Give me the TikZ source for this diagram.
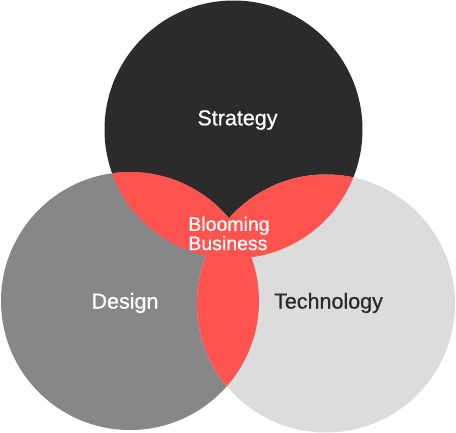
\documentclass[tikz,border=0pt]{standalone}
\usepackage{fontspec}
\setmainfont{Liberation Sans}[FakeBold=0.7]
\usepackage{xcolor}
\usetikzlibrary{positioning}
\definecolor{darkset}{HTML}{2B2B2B}
\definecolor{midset}{HTML}{878787}
\definecolor{lightset}{HTML}{DCDCDC}
\definecolor{overlap}{HTML}{FF5350}
\tikzset{
  setcirc/.style={circle, minimum size=258pt, inner sep=0pt},
  setname/.style={font=\fontsize{21.5}{23}\selectfont},
}
\newcommand{\rad}{129pt}

\begin{document}
\begin{tikzpicture}[x=1pt, y=-1pt]
    \useasboundingbox (0,0) rectangle (456,432);
    \node[setcirc, fill=darkset] (strategy) at (233.5,129.5) {};
    \node[setcirc, fill=midset] (design) at (130,301) {};
    \node[setcirc, fill=lightset] (tech) at (326,303.5) {};
    % pairwise overlaps
    \begin{scope}
      \clip (design.center) circle (\rad);
      \fill[overlap] (strategy.center) circle (\rad);
      \fill[overlap] (tech.center) circle (\rad);
    \end{scope}
    \begin{scope}
      \clip (tech.center) circle (\rad);
      \fill[overlap] (strategy.center) circle (\rad);
    \end{scope}
    \node[setname, text=white] (strategytxt) at (237.5,120) {Strategy};
    \node[setname, text=white] (designtxt) at (125,303) {Design};
    \node[setname, text=darkset] (techtxt) at (328.5,303) {Technology};
    \node[font=\fontsize{19.5}{17.5}\selectfont, text=white, align=left] (bloom) at (229,233.5) {Blooming\\Business};
  \end{tikzpicture}
\end{document}
